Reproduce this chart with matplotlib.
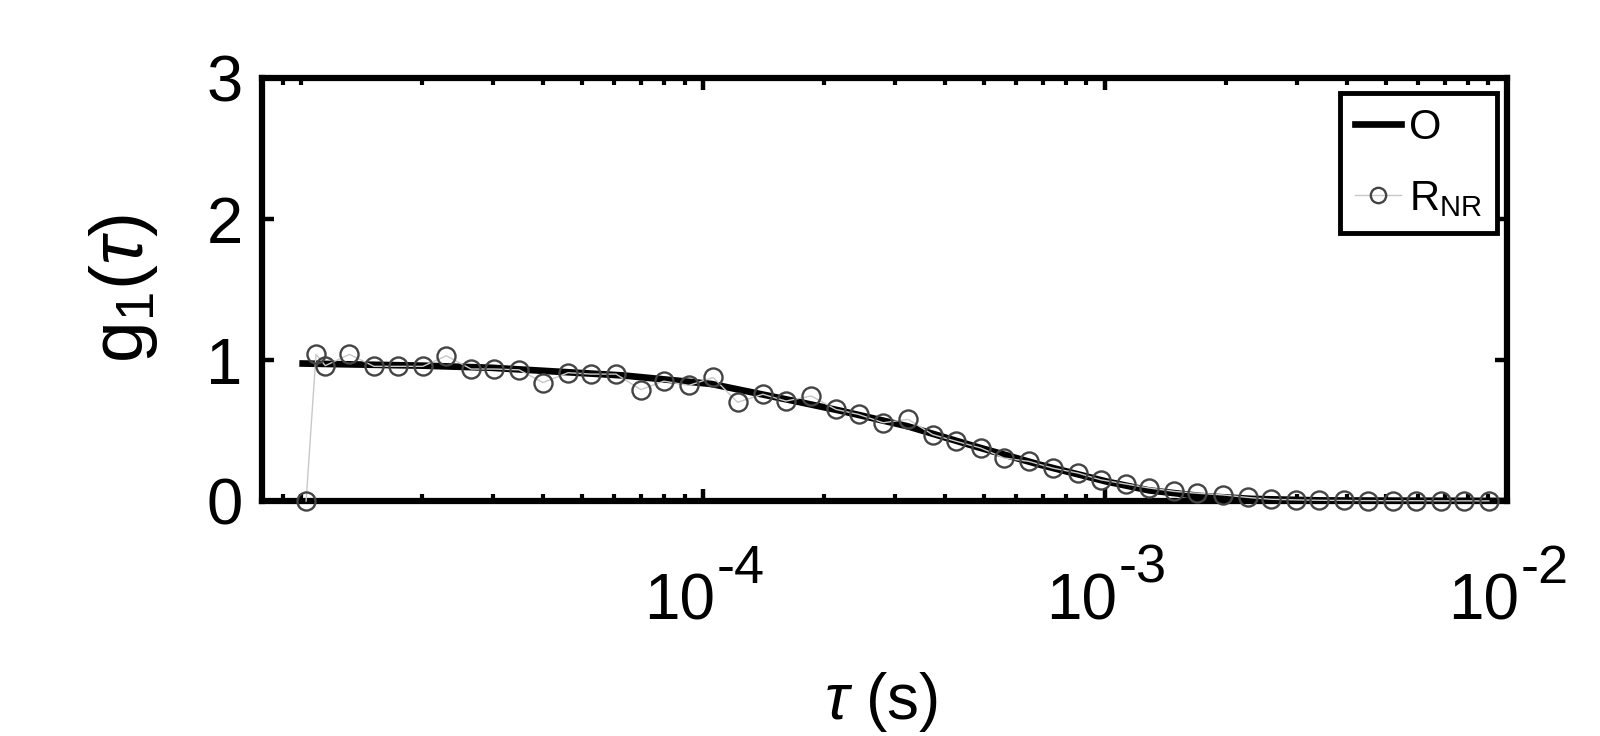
# g1(tau) correlation: measured points and fitted curve
import matplotlib
matplotlib.use('Agg')
import matplotlib.pyplot as plt
from matplotlib.ticker import FixedLocator, NullFormatter

plt.rcParams['font.family'] = ['Liberation Sans', 'DejaVu Sans']
plt.rcParams['mathtext.fontset'] = 'custom'
plt.rcParams['mathtext.rm'] = 'Liberation Sans'
plt.rcParams['mathtext.it'] = 'Liberation Sans:italic'

# measured correlation (R_NR)
tau_nr = [1.03e-5, 1.09e-5, 1.15e-5, 1.32e-5, 1.52e-5, 1.74e-5, 2.01e-5, 2.30e-5,
          2.65e-5, 3.02e-5, 3.49e-5, 4.00e-5, 4.62e-5, 5.26e-5, 6.08e-5, 7.01e-5,
          8.00e-5, 9.23e-5, 1.06e-4, 1.22e-4, 1.41e-4, 1.61e-4, 1.86e-4, 2.14e-4,
          2.44e-4, 2.81e-4, 3.24e-4, 3.73e-4, 4.26e-4, 4.91e-4, 5.61e-4, 6.47e-4,
          7.43e-4, 8.57e-4, 9.77e-4, 1.13e-3, 1.29e-3, 1.49e-3, 1.70e-3, 1.97e-3,
          2.27e-3, 2.59e-3, 2.99e-3, 3.41e-3, 3.93e-3, 4.51e-3, 5.20e-3, 5.94e-3,
          6.85e-3, 7.82e-3, 9.02e-3]
g1_nr = [0.0, 1.04, 0.96, 1.04, 0.955, 0.955, 0.955, 1.03,
         0.936, 0.936, 0.93, 0.84, 0.91, 0.90, 0.90, 0.79,
         0.85, 0.82, 0.876, 0.70, 0.757, 0.709, 0.745, 0.65,
         0.614, 0.555, 0.579, 0.471, 0.424, 0.376, 0.305, 0.281,
         0.233, 0.198, 0.15, 0.12, 0.092, 0.068, 0.055, 0.043,
         0.025, 0.012, 0.008, 0.005, 0.004, 0.003, 0.002, 0.002,
         0.001, 0.001, 0.001]

# fitted curve (O)
tau_fit = [1.01e-5, 2.0e-5, 2.97e-5, 6.36e-5, 1.05e-4, 1.75e-4, 2.2e-4, 3.23e-4,
           4.72e-4, 6.9e-4, 1.01e-3, 1.29e-3, 1.74e-3, 2.32e-3, 3.45e-3, 1e-2]
g1_fit = [0.975, 0.96, 0.945, 0.89, 0.83, 0.70, 0.64, 0.53,
          0.39, 0.257, 0.138, 0.075, 0.035, 0.015, 0.004, 0.0]

xticks = [1e-4, 1e-3, 1e-2]
xtick_exps = ['-4', '-3', '-2']
yticks = [0, 1, 2, 3]

fig = plt.figure(figsize=(16, 7.36), dpi=100)
ax = fig.add_axes([0.16375, 0.3193, 0.778, 0.5747])

ax.plot(tau_fit, g1_fit, color='black', linewidth=4.8, label='O', zorder=3)
ax.plot(tau_nr, g1_nr, color='#c8c8c8', linewidth=1.0, marker='o', markersize=13,
        markerfacecolor='none', markeredgecolor='#444444', markeredgewidth=1.7,
        label='R$_{\\mathregular{NR}}$', clip_on=False, zorder=4)

ax.set_xscale('log')
ax.set_xlim(8e-6, 1e-2)
ax.set_ylim(0, 3)

ax.xaxis.set_major_locator(FixedLocator(xticks))
ax.xaxis.set_major_formatter(NullFormatter())
minors = [m * 10.0**e for e in range(-6, -1) for m in range(1, 10)]
ax.xaxis.set_minor_locator(FixedLocator(minors))
ax.xaxis.set_minor_formatter(NullFormatter())
ax.set_yticks(yticks)
ax.set_yticklabels([str(v) for v in yticks])

# MATLAB style power labels: base and a large hyphen exponent
for t, e in zip(xticks, xtick_exps):
    ax.annotate('10', xy=(t, 0), xycoords=('data', 'axes fraction'),
                xytext=(12, -119), textcoords='offset pixels',
                ha='right', va='baseline', fontsize=46, annotation_clip=False)
    ax.annotate(e, xy=(t, 0), xycoords=('data', 'axes fraction'),
                xytext=(14, -82), textcoords='offset pixels',
                ha='left', va='baseline', fontsize=39, annotation_clip=False)

for sp in ax.spines.values():
    sp.set_linewidth(4.5)
ax.tick_params(which='both', direction='in', top=True, right=True)
ax.tick_params(which='major', length=8.5, width=3.2)
ax.tick_params(which='minor', length=5, width=3.0)
ax.tick_params(axis='y', which='major', labelsize=47, pad=14)

fig.text(124/1600, 1 - 289/736, 'g$_{\\mathregular{1}}$($\\tau$)', rotation=90,
         ha='center', va='center', fontsize=54)
fig.text(881/1600, 1 - 702/736, '$\\tau$ (s)', ha='center', va='center', fontsize=46)

leg = ax.legend(loc='upper right', bbox_to_anchor=(0.992, 0.9645), borderaxespad=0,
                fontsize=30, handlelength=1.1, handletextpad=0.2, borderpad=0.35,
                labelspacing=0.75, fancybox=False, framealpha=1, markerscale=0.85)
leg.get_frame().set_edgecolor('black')
leg.get_frame().set_linewidth(3.5)

fig.savefig('out.png', dpi=100)
